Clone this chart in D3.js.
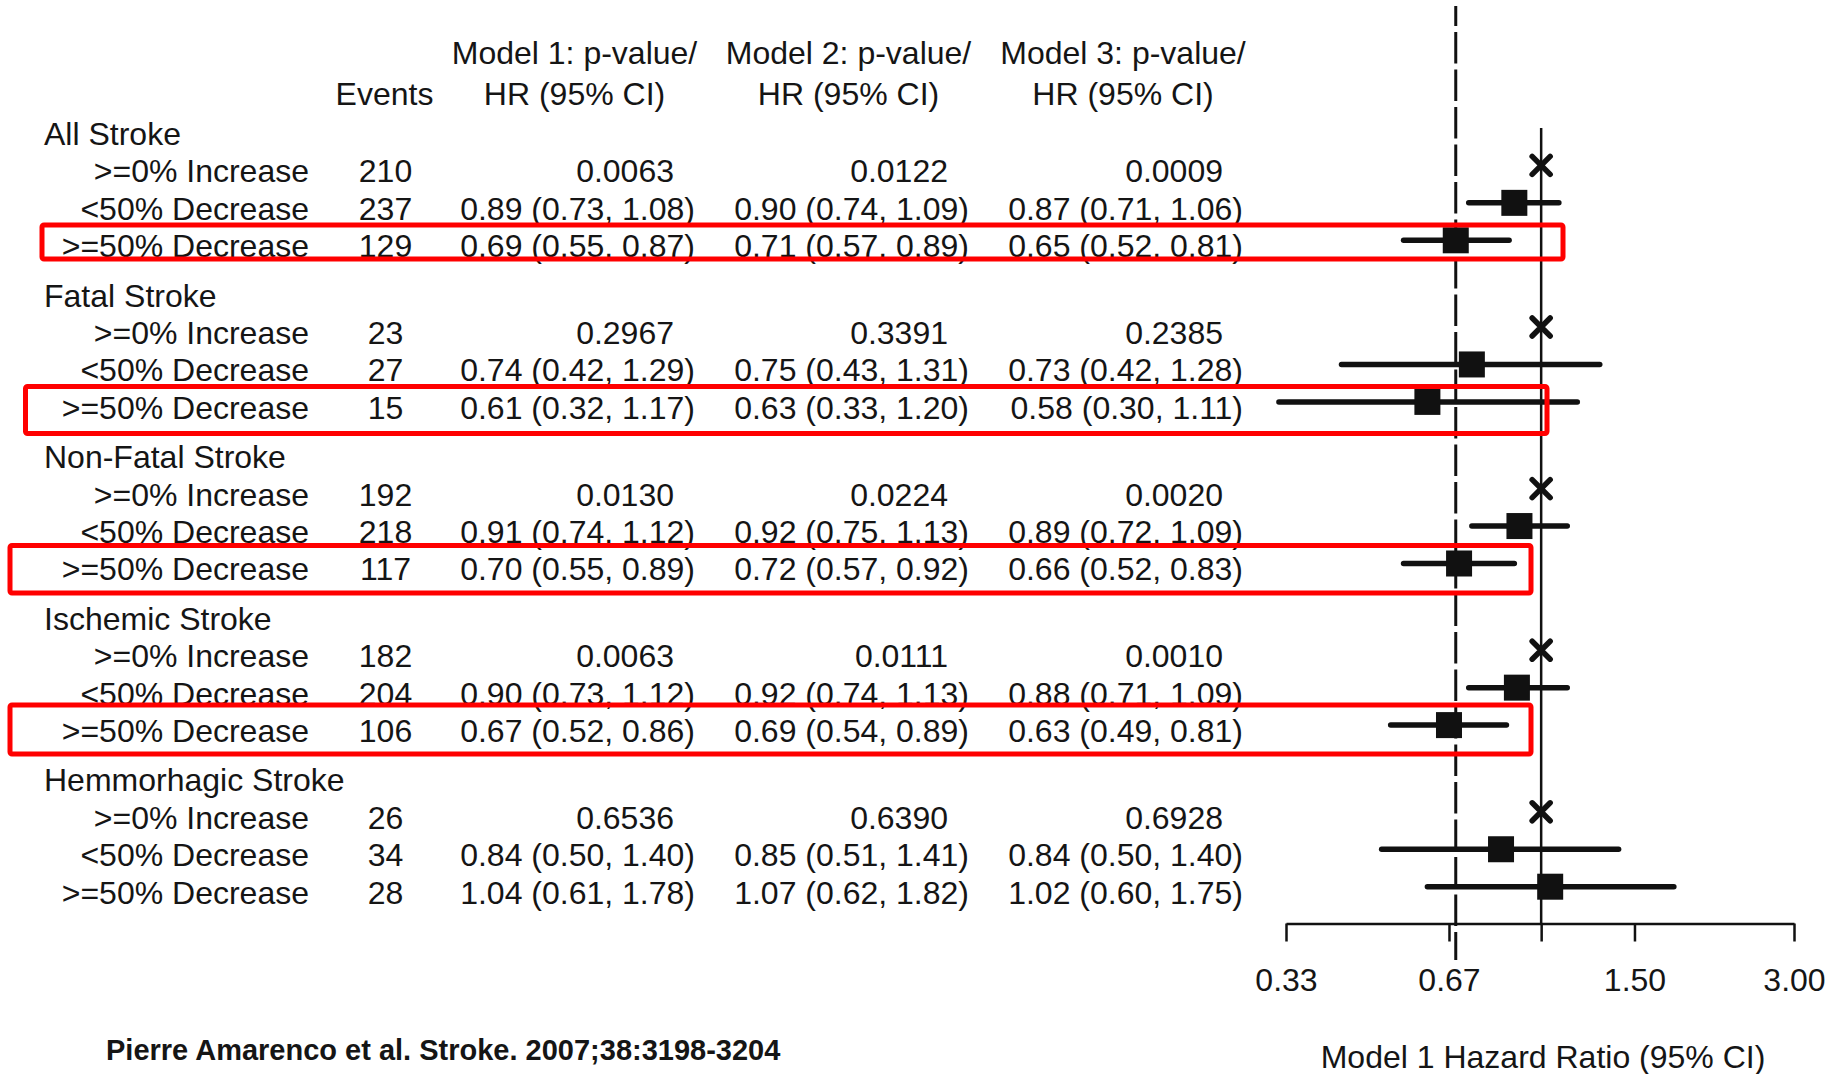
<!DOCTYPE html>
<html>
<head>
<meta charset="utf-8">
<script src="https://cdn.jsdelivr.net/npm/d3@7"></script>
<style>
  html, body { margin: 0; padding: 0; background: #fff; }
  svg { display: block; }
  text { font-family: "Liberation Sans", Arial, sans-serif; fill: #151515; }
</style>
</head>
<body>
<div id="chart"></div>
<script>
// ---- Data -------------------------------------------------------------
const groups = ["All Stroke", "Fatal Stroke", "Non-Fatal Stroke", "Ischemic Stroke", "Hemmorhagic Stroke"];
const categories = [">=0% Increase", "<50% Decrease", ">=50% Decrease"];

// events per group, per category
const events = [
  [210, 237, 129],
  [23, 27, 15],
  [192, 218, 117],
  [182, 204, 106],
  [26, 34, 28]
];

// trend p-values (shown on the reference-category row)
const model1P = ["0.0063", "0.2967", "0.0130", "0.0063", "0.6536"];
const model2P = ["0.0122", "0.3391", "0.0224", "0.0111", "0.6390"];
const model3P = ["0.0009", "0.2385", "0.0020", "0.0010", "0.6928"];

// hazard ratios [HR, lower, upper] for "<50% Decrease" and ">=50% Decrease"
const model1HR = [
  [[0.89, 0.73, 1.08], [0.69, 0.55, 0.87]],
  [[0.74, 0.42, 1.29], [0.61, 0.32, 1.17]],
  [[0.91, 0.74, 1.12], [0.70, 0.55, 0.89]],
  [[0.90, 0.73, 1.12], [0.67, 0.52, 0.86]],
  [[0.84, 0.50, 1.40], [1.04, 0.61, 1.78]]
];
const model2HR = [
  [[0.90, 0.74, 1.09], [0.71, 0.57, 0.89]],
  [[0.75, 0.43, 1.31], [0.63, 0.33, 1.20]],
  [[0.92, 0.75, 1.13], [0.72, 0.57, 0.92]],
  [[0.92, 0.74, 1.13], [0.69, 0.54, 0.89]],
  [[0.85, 0.51, 1.41], [1.07, 0.62, 1.82]]
];
const model3HR = [
  [[0.87, 0.71, 1.06], [0.65, 0.52, 0.81]],
  [[0.73, 0.42, 1.28], [0.58, 0.30, 1.11]],
  [[0.89, 0.72, 1.09], [0.66, 0.52, 0.83]],
  [[0.88, 0.71, 1.09], [0.63, 0.49, 0.81]],
  [[0.84, 0.50, 1.40], [1.02, 0.60, 1.75]]
];

const referenceHR = 1.0;     // reference category (>=0% Increase)
const dashedHR = 0.69;       // dashed guide line
const tickValues = [0.33, 0.67, 1.0, 1.50, 3.00];
const tickLabels = ["0.33", "0.67", "", "1.50", "3.00"];
const modelHeaders = ["Model 1: p-value/", "Model 2: p-value/", "Model 3: p-value/"];
const axisTitle = "Model 1 Hazard Ratio (95% CI)";
const citation = "Pierre Amarenco et al. Stroke. 2007;38:3198-3204";
// highlighted rows: [group index, category index]
const highlighted = [[0, 2], [1, 2], [2, 2], [3, 2]];

// ---- Layout -----------------------------------------------------------
const W = 1835, H = 1074;
const FS = 32;
const capShift = FS * 0.358;           // baseline offset from cap centre
const rowTop = 170.9, groupStep = 161.6, rowStep = 37.45;
const yText = (g, r) => rowTop + g * groupStep + r * rowStep;
const markerLift = 5.5;
const axisY = 923.5;

const x = d3.scaleLog().domain([0.33, 3.00]).range([1286, 1794]);

const cols = {
  groupX: 44,
  labelEnd: 309,
  eventsMid: 385.5,
  hrEnd: [695, 969, 1243],
  pEnd: [674, 948, 1223],
  headCenter: [574.5, 848.5, 1123],
  eventsCenter: 384.5
};

// red outline boxes around highlighted rows (pixel extents)
const boxRects = [
  { x0: 42, x1: 1563, y0: 225, y1: 259 },
  { x0: 25.5, x1: 1547, y0: 386.5, y1: 433.5 },
  { x0: 10, x1: 1531, y0: 545.5, y1: 593 },
  { x0: 10, x1: 1531, y0: 705, y1: 754 }
];

const svg = d3.select("#chart").append("svg")
  .attr("width", W).attr("height", H);
svg.append("rect").attr("width", W).attr("height", H).attr("fill", "#fff");

// ---- Headers ----------------------------------------------------------
const head = svg.append("g").attr("font-size", FS);
modelHeaders.forEach((h, i) => {
  head.append("text").attr("x", cols.headCenter[i]).attr("y", 53 + capShift)
    .attr("text-anchor", "middle").text(h);
  head.append("text").attr("x", cols.headCenter[i]).attr("y", 94 + capShift)
    .attr("text-anchor", "middle").text("HR (95% CI)");
});
head.append("text").attr("x", cols.eventsCenter).attr("y", 94 + capShift)
  .attr("text-anchor", "middle").text("Events");

// ---- Table rows -------------------------------------------------------
const fmt = d3.format(".2f");
const hrText = v => `${fmt(v[0])} (${fmt(v[1])}, ${fmt(v[2])})`;
const pCols = [model1P, model2P, model3P];
const hrCols = [model1HR, model2HR, model3HR];

const table = svg.append("g").attr("font-size", FS);
groups.forEach((name, g) => {
  table.append("text").attr("x", cols.groupX).attr("y", yText(g, -1) + capShift).text(name);
  categories.forEach((cat, r) => {
    const yb = yText(g, r) + capShift;
    table.append("text").attr("x", cols.labelEnd).attr("y", yb)
      .attr("text-anchor", "end").text(cat);
    table.append("text").attr("x", cols.eventsMid).attr("y", yb)
      .attr("text-anchor", "middle").text(events[g][r]);
    for (let m = 0; m < 3; m++) {
      if (r === 0) {
        table.append("text").attr("x", cols.pEnd[m]).attr("y", yb)
          .attr("text-anchor", "end").text(pCols[m][g]);
      } else {
        table.append("text").attr("x", cols.hrEnd[m]).attr("y", yb)
          .attr("text-anchor", "end").text(hrText(hrCols[m][g][r - 1]));
      }
    }
  });
});

// ---- Forest plot ------------------------------------------------------
const plot = svg.append("g");

// dashed guide line
plot.append("line")
  .attr("x1", x(dashedHR)).attr("x2", x(dashedHR))
  .attr("y1", 6).attr("y2", 960)
  .attr("stroke", "#111").attr("stroke-width", 3)
  .attr("stroke-dasharray", "31.5,6").attr("stroke-dashoffset", 11.5);

// line of no effect
plot.append("line")
  .attr("x1", x(referenceHR)).attr("x2", x(referenceHR))
  .attr("y1", 128).attr("y2", axisY)
  .attr("stroke", "#111").attr("stroke-width", 2.5);

// axis
const axis = d3.axisBottom(x)
  .tickValues(tickValues)
  .tickFormat((d, i) => tickLabels[i])
  .tickSizeInner(18).tickSizeOuter(0);
const ax = svg.append("g").attr("transform", `translate(0,${axisY})`).call(axis);
ax.select(".domain").attr("stroke", "#111").attr("stroke-width", 2.5);
ax.selectAll(".tick line").attr("stroke", "#111").attr("stroke-width", 2.5);
ax.selectAll(".tick text")
  .attr("font-size", FS).attr("font-family", "Liberation Sans, Arial, sans-serif")
  .attr("fill", "#151515").attr("dy", null).attr("y", 56.5 + capShift);

svg.append("text").attr("x", 1543).attr("y", 1057 + capShift)
  .attr("font-size", FS).attr("text-anchor", "middle").text(axisTitle);

// markers
const sq = 26, arm = 9;
groups.forEach((name, g) => {
  // reference category: X at HR = 1
  const y0 = yText(g, 0) - markerLift;
  const cx = x(referenceHR);
  plot.append("path")
    .attr("d", `M${cx - arm},${y0 - arm}L${cx + arm},${y0 + arm}M${cx - arm},${y0 + arm}L${cx + arm},${y0 - arm}`)
    .attr("stroke", "#111").attr("stroke-width", 5.5).attr("stroke-linecap", "round")
    .attr("fill", "none");
  model1HR[g].forEach((v, i) => {
    const yy = yText(g, i + 1) - markerLift;
    plot.append("line")
      .attr("x1", x(v[1])).attr("x2", x(v[2]))
      .attr("y1", yy).attr("y2", yy)
      .attr("stroke", "#111").attr("stroke-width", 5.5).attr("stroke-linecap", "round");
    plot.append("rect")
      .attr("x", x(v[0]) - sq / 2).attr("y", yy - sq / 2)
      .attr("width", sq).attr("height", sq).attr("fill", "#111");
  });
});

// highlight boxes
highlighted.forEach((h, i) => {
  const b = boxRects[i];
  svg.append("rect")
    .attr("x", b.x0).attr("y", b.y0)
    .attr("width", b.x1 - b.x0).attr("height", b.y1 - b.y0)
    .attr("rx", 2)
    .attr("fill", "none").attr("stroke", "#ff0000").attr("stroke-width", 5);
});

// citation
svg.append("text").attr("x", 106).attr("y", 1060)
  .attr("font-size", 29).attr("font-weight", "bold").attr("fill", "#000")
  .text(citation);
</script>
</body>
</html>
